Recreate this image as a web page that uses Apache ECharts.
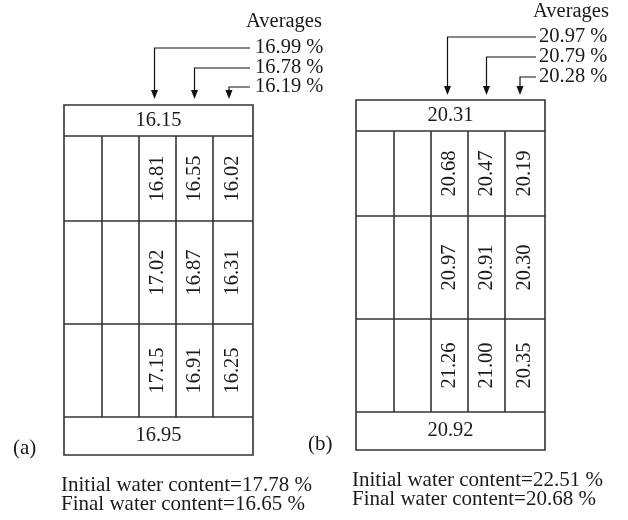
<!DOCTYPE html>
<html><head><meta charset="utf-8">
<script src="https://cdn.jsdelivr.net/npm/echarts@6/dist/echarts.min.js"></script>
<style>html,body{margin:0;padding:0;background:#fff}#c{width:628px;height:520px}</style>
</head><body><div id="c"></div>
<script>
// ---------------- data ----------------
const panelLabels = ['(a)', '(b)'];
const topValues = [16.15, 20.31];
const bottomValues = [16.95, 20.92];
// middle layers: rows (top to bottom) x measured columns (left to right)
const middleA = [[16.81, 16.55, 16.02], [17.02, 16.87, 16.31], [17.15, 16.91, 16.25]];
const middleB = [[20.68, 20.47, 20.19], [20.97, 20.91, 20.30], [21.26, 21.00, 20.35]];
const averagesA = [16.99, 16.78, 16.19];
const averagesB = [20.97, 20.79, 20.28];
const initialWater = [17.78, 22.51];
const finalWater = [16.65, 20.68];
const averagesTitle = 'Averages';

// ---------------- layout (not data) ----------------
const FONT = '"Liberation Serif", "Times New Roman", serif';
const colEdges = [0, 38, 75, 112, 149, 189];     // x-axis units
const rowEdges = [0, 31, 116, 219, 312, 350];    // y-axis units
const valueCols = [2, 3, 4];
const panels = [
  { grid: { left: 64, top: 105, width: 189, height: 350 }, levels: [-57, -37, -18], arrowDx: [-3, 0, -4],
    tipGap: 6, lineEndDx: -3, textDx: 2, titleY: -83, titleDx: -7, label: [13, 448], noteX: 61, noteY: [485, 504] },
  { grid: { left: 356, top: 100, width: 189, height: 350 }, levels: [-63, -43, -23], arrowDx: [-2, 0, -5],
    tipGap: 5, lineEndDx: -9, textDx: -6, titleY: -88, titleDx: -12, label: [308, 444], noteX: 352, noteY: [480, 499] }
];
const middles = [middleA, middleB];
const averages = [averagesA, averagesB];

const LINE = '#333';
const TXT = '#1a1a1a';
const chart = echarts.init(document.getElementById('c'), null, { renderer: 'canvas' });

const grids = [], xAxes = [], yAxes = [], series = [], graphics = [];
panels.forEach(function (P, pi) {
  grids.push(P.grid);
  xAxes.push({ type: 'value', gridIndex: pi, min: colEdges[0], max: colEdges[colEdges.length - 1], show: false });
  yAxes.push({ type: 'value', gridIndex: pi, min: rowEdges[0], max: rowEdges[rowEdges.length - 1], inverse: true, show: false });

  // structure of the specimen (outline, layers, columns)
  series.push({
    type: 'custom', xAxisIndex: pi, yAxisIndex: pi, clip: false, silent: true,
    data: [[0, 0]],
    renderItem: function (params, api) {
      const ch = [];
      const L = colEdges[0], R = colEdges[colEdges.length - 1];
      const T = rowEdges[0], B = rowEdges[rowEdges.length - 1];
      const p0 = api.coord([L, T]), p1 = api.coord([R, B]);
      ch.push({ type: 'rect', shape: { x: p0[0], y: p0[1], width: p1[0] - p0[0], height: p1[1] - p0[1] },
        style: { fill: null, stroke: LINE, lineWidth: 1.6 } });
      for (let r = 1; r < rowEdges.length - 1; r++) {
        const a = api.coord([L, rowEdges[r]]), b = api.coord([R, rowEdges[r]]);
        ch.push({ type: 'line', shape: { x1: a[0], y1: a[1], x2: b[0], y2: b[1] }, style: { stroke: LINE, lineWidth: 1.6 } });
      }
      for (let c = 1; c < colEdges.length - 1; c++) {
        const a = api.coord([colEdges[c], rowEdges[1]]), b = api.coord([colEdges[c], rowEdges[rowEdges.length - 2]]);
        ch.push({ type: 'line', shape: { x1: a[0], y1: a[1], x2: b[0], y2: b[1] }, style: { stroke: LINE, lineWidth: 1.6 } });
      }
      return { type: 'group', children: ch };
    }
  });

  // cell values: [x, y, value, rotated]
  const cells = [];
  const L = colEdges[0], R = colEdges[colEdges.length - 1];
  cells.push([(L + R) / 2, (rowEdges[0] + rowEdges[1]) / 2, topValues[pi], 0]);
  middles[pi].forEach(function (row, ri) {
    row.forEach(function (v, ci) {
      const c = valueCols[ci];
      cells.push([(colEdges[c] + colEdges[c + 1]) / 2, (rowEdges[ri + 1] + rowEdges[ri + 2]) / 2, v, 1]);
    });
  });
  const nR = rowEdges.length;
  cells.push([(L + R) / 2, (rowEdges[nR - 2] + rowEdges[nR - 1]) / 2, bottomValues[pi], 0]);
  series.push({
    type: 'custom', xAxisIndex: pi, yAxisIndex: pi, clip: false, silent: true,
    data: cells,
    renderItem: function (params, api) {
      const p = api.coord([api.value(0), api.value(1)]);
      return { type: 'text', x: p[0], y: p[1], rotation: api.value(3) ? Math.PI / 2 : 0,
        style: { text: api.value(2).toFixed(2), fill: TXT, font: '20.5px ' + FONT, align: 'center', verticalAlign: 'middle' } };
    }
  });

  // averages arrows: [x, level, avg, index]
  const arr = averages[pi].map(function (v, i) {
    const c = valueCols[i];
    return [(colEdges[c] + colEdges[c + 1]) / 2, P.levels[i], v, i];
  });
  series.push({
    type: 'custom', xAxisIndex: pi, yAxisIndex: pi, clip: false, silent: true,
    data: arr,
    renderItem: function (params, api) {
      const i = api.value(3);
      const p = api.coord([api.value(0), api.value(1)]);
      const x = p[0] + P.arrowDx[i];
      const top = api.coord([api.value(0), rowEdges[0]])[1];
      const right = api.coord([colEdges[colEdges.length - 1], api.value(1)])[0];
      const tip = top - P.tipGap, base = tip - 9;
      const ch = [
        { type: 'polyline', shape: { points: [[right + P.lineEndDx, p[1]], [x, p[1]], [x, base + 1]] },
          style: { fill: null, stroke: '#111', lineWidth: 1.2 } },
        { type: 'polygon', shape: { points: [[x - 3.5, base], [x + 3.5, base], [x, tip]] }, style: { fill: '#111' } },
        { type: 'text', x: right + P.textDx, y: p[1],
          style: { text: api.value(2).toFixed(2) + ' %', fill: TXT, font: '20.5px ' + FONT, align: 'left', verticalAlign: 'middle' } }
      ];
      if (i === 0) {
        ch.push({ type: 'text', x: right + P.titleDx, y: api.coord([0, P.titleY])[1],
          style: { text: averagesTitle, fill: TXT, font: '20.5px ' + FONT, align: 'left', verticalAlign: 'middle' } });
      }
      return { type: 'group', children: ch };
    }
  });

  graphics.push({ type: 'text', x: P.label[0], y: P.label[1],
    style: { text: panelLabels[pi], fill: TXT, font: '21px ' + FONT, textAlign: 'left', textVerticalAlign: 'middle' } });
  graphics.push({ type: 'text', x: P.noteX, y: P.noteY[0],
    style: { text: 'Initial water content=' + initialWater[pi].toFixed(2) + ' %', fill: TXT, font: '21px ' + FONT, textAlign: 'left', textVerticalAlign: 'middle' } });
  graphics.push({ type: 'text', x: P.noteX, y: P.noteY[1],
    style: { text: 'Final water content=' + finalWater[pi].toFixed(2) + ' %', fill: TXT, font: '21px ' + FONT, textAlign: 'left', textVerticalAlign: 'middle' } });
});

chart.setOption({
  animation: false,
  backgroundColor: '#fff',
  grid: grids,
  xAxis: xAxes,
  yAxis: yAxes,
  series: series,
  graphic: graphics
});
</script>
</body></html>
